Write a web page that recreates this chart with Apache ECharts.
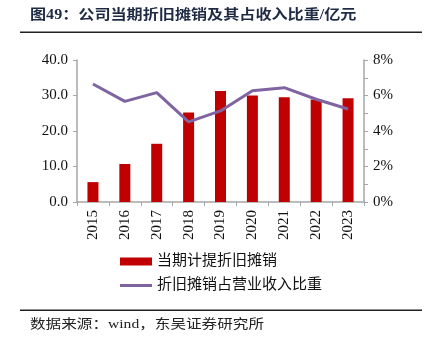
<!DOCTYPE html>
<html><head><meta charset="utf-8">
<script src="https://cdn.jsdelivr.net/npm/echarts@6/dist/echarts.min.js"></script>
<style>html,body{margin:0;padding:0;background:#fff}#c{width:428px;height:346px}</style>
</head><body><div id="c"></div>
<script>
const categories = ['2015','2016','2017','2018','2019','2020','2021','2022','2023'];
const depreciation = [5.6, 10.7, 16.4, 25.2, 31.3, 30.0, 29.5, 28.9, 29.2];
const ratio = [6.65, 5.67, 6.16, 4.51, 5.13, 6.27, 6.44, 5.79, 5.24];
const leftTicks = [0, 10, 20, 30, 40];
const rightTicks = [0, 2, 4, 6, 8];
const titleText = '图49：公司当期折旧摊销及其占收入比重/亿元';
const sourceText = '数据来源：wind，东吴证券研究所';
const barName = '当期计提折旧摊销';
const lineName = '折旧摊销占营业收入比重';

const serif = '"Liberation Serif","DejaVu Serif",serif';
const cjk = '"Liberation Serif","Noto Sans CJK SC",serif';
const axisColor = '#a6a6a6';
const chart = echarts.init(document.getElementById('c'), null, {renderer:'canvas'});
chart.setOption({
  animation:false,
  backgroundColor:'#fff',
  grid:{left:77, right:64, top:60, bottom:144},
  graphic:[
    {type:'text', left:30, top:8, scaleX:1.15, style:{text:titleText, fontSize:14, fontWeight:'bold', fontFamily:'"Liberation Serif","Noto Sans CJK SC",sans-serif', fill:'#1f2a44'}},
    {type:'rect', shape:{x:20, y:31.5, width:402, height:1.5}, style:{fill:'#222'}},
    {type:'rect', shape:{x:20, y:309.5, width:402, height:1.5}, style:{fill:'#222'}},
    {type:'text', left:30, top:318, scaleX:1.2, style:{text:sourceText, fontSize:13, fontFamily:cjk, fill:'#222'}}
  ],
  legend:[
    {data:[{name:barName, icon:'rect'}], left:120, top:254, padding:0, itemWidth:32, itemHeight:8, itemGap:5,
     textStyle:{fontSize:15, fontFamily:cjk, color:'#111'}},
    {data:[{name:lineName, icon:'rect'}], left:120, top:278, padding:0, itemWidth:32, itemHeight:3, itemGap:5,
     textStyle:{fontSize:15, fontFamily:cjk, color:'#111'}}
  ],
  xAxis:{type:'category', data:categories,
    axisLine:{lineStyle:{color:axisColor, width:1.5}},
    axisTick:{show:true, length:4, lineStyle:{color:axisColor}},
    axisLabel:{rotate:90, fontSize:15, fontFamily:serif, color:'#111', margin:8}},
  yAxis:[
    {type:'value', min:leftTicks[0], max:leftTicks[leftTicks.length-1], interval:leftTicks[1]-leftTicks[0],
     splitLine:{show:false},
     axisLine:{show:true, lineStyle:{color:axisColor, width:1.5}},
     axisTick:{show:true, length:4, lineStyle:{color:axisColor}},
     axisLabel:{fontSize:15, fontFamily:serif, color:'#111', margin:9, formatter:v=>v.toFixed(1)}},
    {type:'value', min:rightTicks[0], max:rightTicks[rightTicks.length-1], interval:1,
     splitLine:{show:false},
     axisLine:{show:true, lineStyle:{color:axisColor, width:1.5}},
     axisTick:{show:true, length:4, lineStyle:{color:axisColor}},
     axisLabel:{fontSize:15, fontFamily:serif, color:'#111', margin:9,
       formatter:v=>rightTicks.indexOf(v)>=0 ? v+'%' : ''}}
  ],
  series:[
    {name:barName, type:'bar', data:depreciation, barWidth:11, itemStyle:{color:'#c00000'}},
    {name:lineName, type:'line', yAxisIndex:1, data:ratio, symbol:'none',
     lineStyle:{color:'#8064a2', width:3}, itemStyle:{color:'#8064a2'}}
  ]
});
</script></body></html>
